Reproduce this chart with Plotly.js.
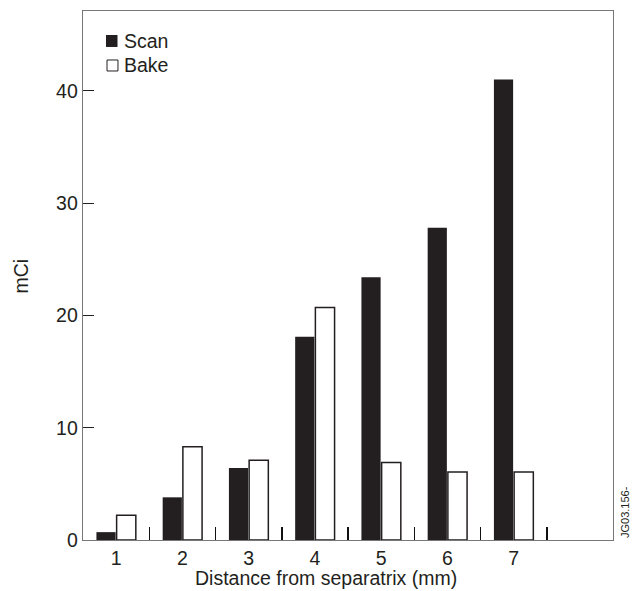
<!DOCTYPE html>
<html>
<head>
<meta charset="utf-8">
<script src="https://cdn.plot.ly/plotly-3.0.1.min.js"></script>
<style>html,body{margin:0;padding:0;background:#fff;}#chart{width:632px;height:591px;}</style>
</head>
<body>
<div id="chart"></div>
<script>
var distances = [1, 2, 3, 4, 5, 6, 7];
var scanValues = [0.7, 3.8, 6.4, 18.1, 23.4, 27.8, 41.0];
var bakeValues = [2.2, 8.3, 7.1, 20.7, 6.9, 6.05, 6.05];
var yTickVals = [0, 10, 20, 30, 40];
var xTickLabels = ['1', '2', '3', '4', '5', '6', '7'];
var dividerTicks = [1.5, 2.5, 3.5, 4.5, 5.5, 6.5, 7.5];

var ink = '#231f20';
var FONT = 'Liberation Sans, Arial, Helvetica, sans-serif';
var FS = 19.5;

var traces = [
  {type: 'bar', name: 'Scan', x: distances, y: scanValues,
   marker: {color: ink, line: {width: 0}}, showlegend: false},
  {type: 'bar', name: 'Bake', x: distances, y: bakeValues,
   marker: {color: '#ffffff', line: {color: ink, width: 1.5}}, showlegend: false}
];

var layout = {
  width: 632, height: 591,
  margin: {l: 83, r: 19, t: 11, b: 51},
  paper_bgcolor: '#fff', plot_bgcolor: '#fff',
  font: {family: FONT, size: FS, color: ink},
  barmode: 'group', bargap: 0.39, bargroupgap: 0.05,
  xaxis: {
    range: [0.5, 8.5], tickmode: 'array', tickvals: distances, ticktext: xTickLabels,
    ticks: '', showgrid: false, zeroline: false,
    showline: true, linecolor: '#777', linewidth: 1.3, mirror: true,
    tickfont: {family: FONT, size: FS, color: ink},
    minor: {tickmode: 'array', tickvals: dividerTicks, ticks: 'inside', ticklen: 13,
            tickcolor: '#111', tickwidth: 1.5, showgrid: false}
  },
  yaxis: {
    range: [0, 47.1], tickmode: 'array', tickvals: yTickVals,
    ticks: 'inside', ticklen: 11, tickcolor: ink, tickwidth: 1,
    showgrid: false, zeroline: false,
    showline: true, linecolor: '#777', linewidth: 1.3, mirror: true,
    tickfont: {family: FONT, size: FS, color: ink}
  },
  shapes: [
    {type: 'rect', xref: 'paper', yref: 'paper', x0: 0.0434, x1: 0.0651, y0: 0.932, y1: 0.9546,
     fillcolor: ink, line: {width: 0}},
    {type: 'rect', xref: 'paper', yref: 'paper', x0: 0.0453, x1: 0.0660, y0: 0.8866, y1: 0.9074,
     fillcolor: '#fff', line: {color: ink, width: 1}}
  ],
  annotations: [
    {xref: 'paper', yref: 'paper', x: 0.0736, y: 0.943, xanchor: 'left', yanchor: 'middle',
     text: 'Scan', showarrow: false, font: {family: FONT, size: FS, color: ink}},
    {xref: 'paper', yref: 'paper', x: 0.0736, y: 0.897, xanchor: 'left', yanchor: 'middle',
     text: 'Bake', showarrow: false, font: {family: FONT, size: FS, color: ink}},
    {xref: 'paper', yref: 'paper', x: 0.4585, y: -0.0718, xanchor: 'center', yanchor: 'middle',
     text: 'Distance from separatrix (mm)', showarrow: false, font: {family: FONT, size: FS, color: ink}},
    {xref: 'paper', yref: 'paper', x: -0.1170, y: 0.5, xanchor: 'center', yanchor: 'middle',
     text: 'mCi', textangle: -90, showarrow: false, font: {family: FONT, size: FS, color: ink}},
    {xref: 'paper', yref: 'paper', x: 1.0226, y: 0.0, xanchor: 'center', yanchor: 'bottom',
     text: 'JG03.156-', textangle: -90, showarrow: false, font: {family: FONT, size: 11, color: ink}}
  ]
};

Plotly.newPlot('chart', traces, layout, {displayModeBar: false, staticPlot: true});
</script>
</body>
</html>
